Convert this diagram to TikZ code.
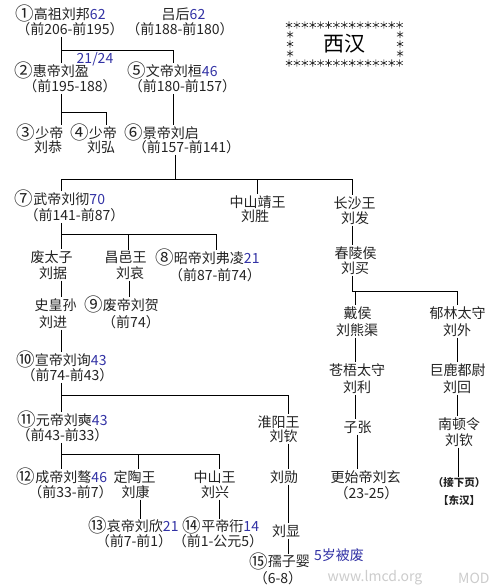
\documentclass[tikz,border=0pt]{standalone}
\usepackage{fontspec}
\setmainfont{Noto Sans CJK SC}
\definecolor{txt}{RGB}{35,35,35}
\definecolor{nb}{RGB}{50,50,165}
\newcommand\cnum[1]{\raisebox{-1.2pt}[11pt][1.5pt]{\fontsize{18.5}{16}\selectfont #1}}
\begin{document}
\begin{tikzpicture}[x=1pt,y=-1pt,
  t/.style={inner sep=1pt, text=txt, font=\fontsize{14}{16}\selectfont},
  sm/.style={inner sep=1pt, text=txt, font=\bfseries\fontsize{10.5}{12}\selectfont},
  ln/.style={draw=black, line width=0.8pt},
  ast/.pic={\draw[line width=0.6pt, black!85] (0,-3.6)--(0,3.6) (-3.1,-1.8)--(3.1,1.8) (-3.1,1.8)--(3.1,-1.8);}
]
\useasboundingbox (0,0) rectangle (500,588);
\fill[white] (0,0) rectangle (500,588);

% title
\node[inner sep=1pt, font=\fontsize{21}{24}\selectfont] (title) at (344.5,44) {西汉};
\foreach \i in {0,...,14} {
  \pic at (289+\i*7.9,25) {ast};
  \pic at (289+\i*7.9,63) {ast};
}
\foreach \yy in {34.5,44,53.5} {
  \pic at (290,\yy) {ast};
  \pic at (400,\yy) {ast};
}

% people
\node[t] (p1) at (60.5,14) {\cnum{①}高祖刘邦\textcolor{nb}{62}};
\node[t] (p1d) at (70,29) {（前206-前195）};
\node[t] (lh) at (183.5,14) {吕后\textcolor{nb}{62}};
\node[t] (lhd) at (180,29) {（前188-前180）};
\node[t,text=nb] (n2124) at (95,59) {21/24};
\node[t] (p2) at (51.5,71) {\cnum{②}惠帝刘盈};
\node[t] (p2d) at (70,86) {（前195-188）};
\node[t] (p5) at (172.5,71) {\cnum{⑤}文帝刘桓\textcolor{nb}{46}};
\node[t] (p5d) at (182.5,86) {（前180-前157）};
\node[t] (p3) at (40,133) {\cnum{③}少帝};
\node[t] (p3n) at (48,147) {刘恭};
\node[t] (p4) at (93.5,133) {\cnum{④}少帝};
\node[t] (p4n) at (101,147) {刘弘};
\node[t] (p6) at (161.5,133) {\cnum{⑥}景帝刘启};
\node[t] (p6d) at (186.5,147) {（前157-前141）};
\node[t] (p7) at (60,199) {\cnum{⑦}武帝刘彻\textcolor{nb}{70}};
\node[t] (p7d) at (74.5,215) {（前141-前87）};
\node[t] (zs) at (257.5,202) {中山靖王};
\node[t] (zsn) at (255,216) {刘胜};
\node[t] (cs) at (354.5,203) {长沙王};
\node[t] (csn) at (355,218) {刘发};
\node[t] (cl) at (355.5,253) {春陵侯};
\node[t] (cln) at (355,268) {刘买};
\node[t] (ft) at (51.5,257) {废太子};
\node[t] (ftn) at (53,273) {刘据};
\node[t] (cy) at (125.5,257) {昌邑王};
\node[t] (cyn) at (130,273) {刘哀};
\node[t] (p8) at (207.5,258) {\cnum{⑧}昭帝刘弗凌\textcolor{nb}{21}};
\node[t] (p8d) at (215,275) {（前87-前74）};
\node[t] (sh) at (55.5,305) {史皇孙};
\node[t] (shn) at (53,322) {刘进};
\node[t] (p9) at (121.5,305) {\cnum{⑨}废帝刘贺};
\node[t] (p9d) at (131,322) {（前74）};
\node[t] (p10) at (61.5,360) {\cnum{⑩}宣帝刘询\textcolor{nb}{43}};
\node[t] (p10d) at (67.5,375) {（前74-前43）};
\node[t] (p11) at (62.5,420) {\cnum{⑪}元帝刘奭\textcolor{nb}{43}};
\node[t] (p11d) at (62.5,435) {（前43-前33）};
\node[t] (hy) at (278.5,422) {淮阳王};
\node[t] (hyn) at (283.5,436) {刘钦};
\node[t] (dh) at (357.5,313) {戴侯};
\node[t] (dhn) at (357,330) {刘熊渠};
\node[t] (yl) at (457.5,313) {郁林太守};
\node[t] (yln) at (457,330) {刘外};
\node[t] (cw) at (357,370) {苍梧太守};
\node[t] (cwn) at (357,387) {刘利};
\node[t] (jl) at (457.5,370) {巨鹿都尉};
\node[t] (jln) at (457,387) {刘回};
\node[t] (zz) at (357.5,427) {子张};
\node[t] (nd) at (459,424) {南顿令};
\node[t] (ndn) at (459,440) {刘钦};
\node[sm] (next) at (459,483) {（接下页）};
\node[sm] (dhan) at (459,500) {【东汉】};
\node[t] (gs) at (365.5,477) {更始帝刘玄};
\node[t] (gsd) at (366.5,493) {（23-25）};
\node[t] (lx) at (284,477) {刘勋};
\node[t] (lxi) at (286,531) {刘显};
\node[t] (p12) at (62,477) {\cnum{⑫}成帝刘骜\textcolor{nb}{46}};
\node[t] (p12d) at (70.5,492) {（前33-前7）};
\node[t] (dt) at (134.5,477) {定陶王};
\node[t] (dtn) at (135.5,492) {刘康};
\node[t] (zsw) at (214.5,477) {中山王};
\node[t] (zswn) at (215,492) {刘兴};
\node[t,inner ysep=0pt] (p13) at (133.5,526) {\cnum{⑬}哀帝刘欣\textcolor{nb}{21}};
\node[t,inner ysep=0pt] (p13d) at (134,541) {（前7-前1）};
\node[t,inner ysep=0pt] (p14) at (221,526) {\cnum{⑭}平帝衎\textcolor{nb}{14}};
\node[t,inner ysep=0pt] (p14d) at (218,541) {（前1-公元5）};
\node[t] (p15) at (279.5,562) {\cnum{⑮}孺子婴};
\node[t] (p15d) at (278,578) {（6-8）};
\node[t,text=nb] (fei) at (339,555) {5岁被废};
\node[t,text=black!20] (wm) at (375,578) {www.lmcd.org};
\node[t,text=black!20,anchor=west] (wm2) at (457,578) {MOD};

% columns and bus rows
\coordinate (c61) at (61,0);
\coordinate (c106) at (106,0);
\coordinate (c128) at (128,0);
\coordinate (c129) at (129,0);
\coordinate (c138) at (138,0);
\coordinate (c140) at (140,0);
\coordinate (c173) at (173,0);
\coordinate (c175) at (175,0);
\coordinate (c216) at (216,0);
\coordinate (c219) at (219,0);
\coordinate (c257) at (257,0);
\coordinate (c288) at (288,0);
\coordinate (c352) at (352,0);
\coordinate (c355) at (355,0);
\coordinate (c357) at (357,0);
\coordinate (c457) at (457,0);
\coordinate (c458) at (458,0);
\coordinate (b50) at (0,50);
\coordinate (b112) at (0,112);
\coordinate (b179) at (0,179);
\coordinate (b234) at (0,234);
\coordinate (b291) at (0,291);
\coordinate (b395) at (0,395);
\coordinate (b454) at (0,454);

% connectors
\draw[ln] (p1d.south -| c61) -- (p2.north -| c61);
\draw[ln] (b50 -| c61) -| (p5.north -| c173);
\draw[ln] (p2d.south -| c61) -- (p3.north -| c61);
\draw[ln] (b112 -| c61) -| (p4.north -| c106);
\draw[ln] (p5d.south -| c173) -- (p6.north -| c173);
\draw[ln] (p6d.south -| c175) -- (b179 -| c175);
\draw[ln] (p7.north -| c61) |- (b179 -| c352) -- (cs.north -| c352);
\draw[ln] (b179 -| c257) -- (zs.north -| c257);
\draw[ln] (p7d.south -| c61) -- (ft.north -| c61);
\draw[ln] (b234 -| c61) -| (p8.north -| c216);
\draw[ln] (b234 -| c128) -- (cy.north -| c128);
\draw[ln] (csn.south -| c352) -- (cl.north -| c352);
\draw[ln] (cln.south -| c352) |- (b291 -| c457) -- (yl.north -| c457);
\draw[ln] (b291 -| c355) -- (dh.north -| c355);
\draw[ln] (dhn.south -| c355) -- (cw.north -| c355);
\draw[ln] (cwn.south -| c355) -- (zz.north -| c355);
\draw[ln] (zz.south -| c357) -- (gs.north -| c357);
\draw[ln] (yln.south -| c457) -- (jl.north -| c457);
\draw[ln] (jln.south -| c457) -- (nd.north -| c457);
\draw[ln] (ndn.south -| c458) -- (next.north -| c458);
\draw[ln] (ftn.south -| c61) -- (sh.north -| c61);
\draw[ln] (cyn.south -| c129) -- (p9.north -| c129);
\draw[ln] (shn.south -| c61) -- (p10.north -| c61);
\draw[ln] (p10d.south -| c61) -- (p11.north -| c61);
\draw[ln] (b395 -| c61) -| (hy.north -| c288);
\draw[ln] (hyn.south -| c288) -- (lx.north -| c288);
\draw[ln] (lx.south -| c288) -- (lxi.north -| c288);
\draw[ln] (lxi.south -| c288) -- (p15.north -| c288);
\draw[ln] (p11d.south -| c61) -- (p12.north -| c61);
\draw[ln] (b454 -| c61) -| (zsw.north -| c219);
\draw[ln] (b454 -| c138) -- (dt.north -| c138);
\draw[ln] (dtn.south -| c140) -- (p13.north -| c140);
\draw[ln] (zswn.south -| c219) -- (p14.north -| c219);
\end{tikzpicture}
\end{document}
